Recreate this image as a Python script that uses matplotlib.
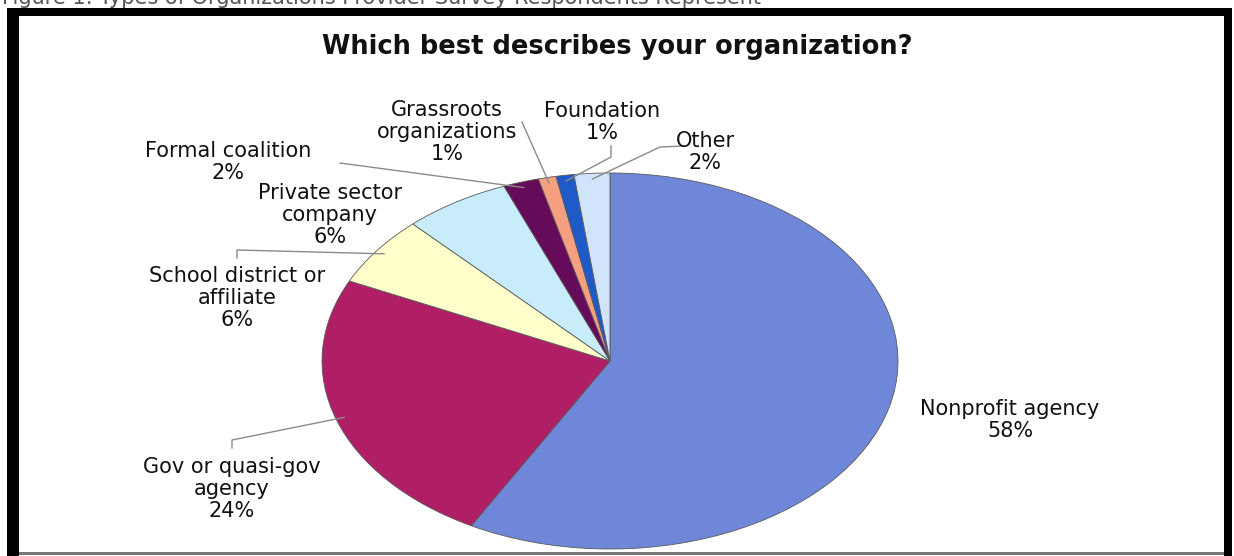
import matplotlib.pyplot as plt
from matplotlib.patches import Rectangle
from matplotlib.lines import Line2D
import numpy as np

W, H = 1234, 556

# 数据
categories = ['Nonprofit agency', 'Gov or quasi-gov\nagency', 'School district or\naffiliate',
              'Private sector\ncompany', 'Formal coalition', 'Grassroots\norganizations',
              'Foundation', 'Other']
shares = [58, 24, 6, 6, 2, 1, 1, 2]
colors = ['#6f87d8', '#b01e66', '#ffffcc', '#c8ecfa', '#660a5a', '#f5a080', '#1f5bc8', '#d0e4fb']

# 标签位置（图像像素，左上为原点）
label_pos = [(1010, 420), (232, 489), (237, 298), (330, 215), (228, 162),
             (447, 132), (602, 122), (705, 152)]
# 引线拐点（图像像素），None 表示无引线
leader_pts = [None, [(232, 448), (232, 440)], [(237, 258), (237, 250)], None,
              [(340, 163)], [(522, 122)], [(611, 146), (611, 157)], [(685, 146), (660, 147)]]


def px(x, y):
    """图像像素 -> figure 坐标"""
    return x / W, 1 - y / H


fig = plt.figure(figsize=(W / 100, H / 100), dpi=100)
fig.patch.set_facecolor('white')

# 饼图区域（椭圆）
left, right, top, bottom = 322, 898, 173, 549
ax = fig.add_axes([left / W, 1 - bottom / H, (right - left) / W, (bottom - top) / H])
wedges, _ = ax.pie(shares, colors=colors, startangle=90, counterclock=False,
                   wedgeprops=dict(edgecolor='#5a5a5a', linewidth=0.6))
ax.set_aspect('auto')
ax.set_xlim(-1, 1)
ax.set_ylim(-1, 1)
ax.axis('off')

# 标签和引线
to_fig = ax.transData + fig.transFigure.inverted()
for w, cat, val, pos, pts in zip(wedges, categories, shares, label_pos, leader_pts):
    fx, fy = px(*pos)
    fig.text(fx, fy, f'{cat}\n{val}%', ha='center', va='center', fontsize=15,
             color='#111111', linespacing=1.1, multialignment='center')
    if pts is not None:
        ang = np.deg2rad((w.theta1 + w.theta2) / 2)
        ex, ey = to_fig.transform((0.97 * np.cos(ang), 0.97 * np.sin(ang)))
        xs = [px(*p)[0] for p in pts] + [ex]
        ys = [px(*p)[1] for p in pts] + [ey]
        fig.add_artist(Line2D(xs, ys, transform=fig.transFigure, color='#8a8a8a', lw=1.0))

# 标题
tx, ty = px(617, 47)
fig.text(tx, ty, 'Which best describes your organization?', ha='center', va='center',
         fontsize=18.5, fontweight='bold', color='#111111')

# 顶部被截断的图注
cx, cy = px(2, 4)
fig.text(cx, cy, 'Figure 1: Types of Organizations Provider Survey Respondents Represent',
         ha='left', va='baseline', fontsize=15, color='#555555')

# 黑色边框
for (x0, y0, x1, y1, c) in [(7, 8, 19, 556, 'black'), (7, 8, 1232, 16, 'black'),
                            (1224, 8, 1232, 556, 'black'), (19, 552, 1224, 555, '#777777')]:
    bx, by = px(x0, y1)
    fig.add_artist(Rectangle((bx, by), (x1 - x0) / W, (y1 - y0) / H, transform=fig.transFigure,
                             facecolor=c, edgecolor='none'))

fig.savefig('out.png', dpi=100)
